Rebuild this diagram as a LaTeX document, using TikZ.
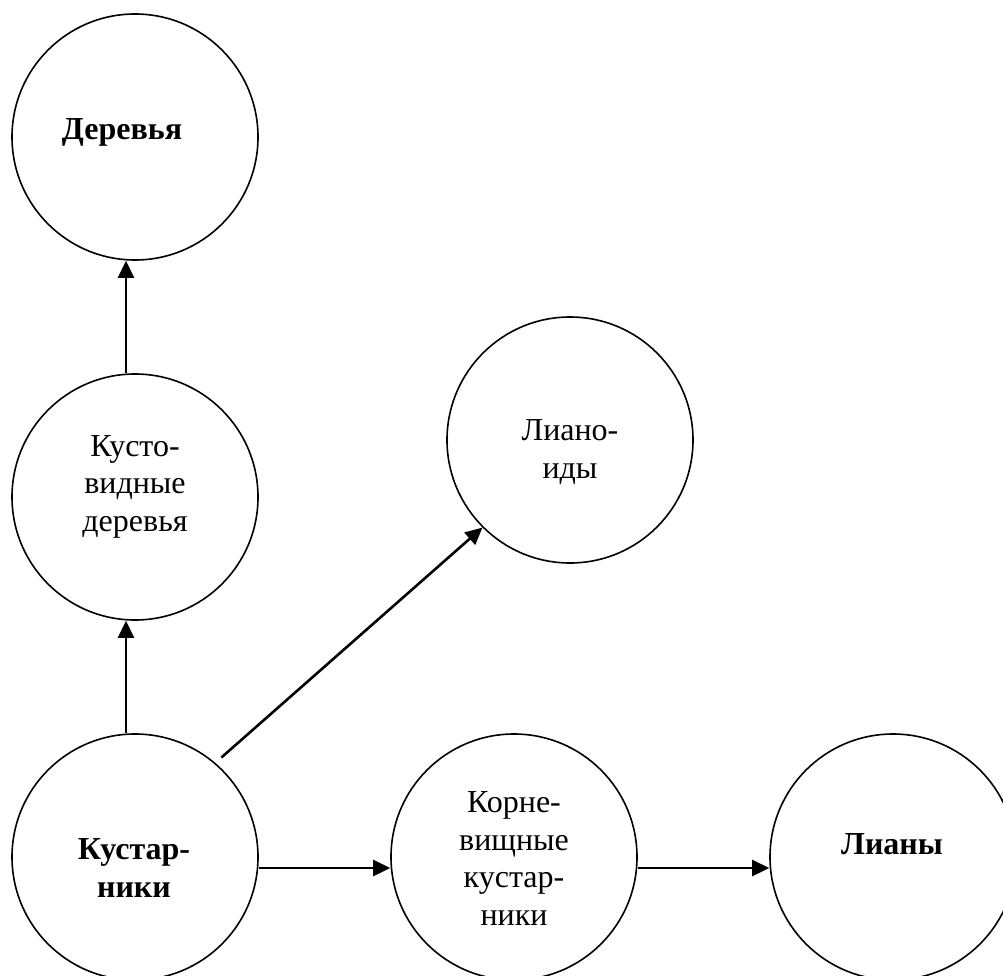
\documentclass[tikz,border=0pt]{standalone}
\usepackage{fontspec}
\setmainfont{Liberation Serif}
\usetikzlibrary{arrows.meta,calc}
\begin{document}
\begin{tikzpicture}[x=1pt,y=-1pt,
  circ/.style={circle,draw,line width=1.6pt,minimum size=246pt,inner sep=0pt},
  lbl/.style={align=center,anchor=base,inner sep=0pt,font=\fontsize{32}{37.5}\selectfont},
  blbl/.style={lbl,font=\fontsize{32}{37.5}\selectfont\bfseries},
  arr/.style={line width=2.6pt,-{Triangle[length=17pt,width=16pt]}}]
\useasboundingbox (0,0) rectangle (1003,976);
\fill[white] (0,0) rectangle (1003,976);
% circles
\node[circ] (d)  at (135,137) {};
\node[circ] (kd) at (135,497) {};
\node[circ] (l)  at (570,440) {};
\node[circ] (k)  at (135,857) {};
\node[circ] (kk) at (514,857) {};
\node[circ] (li) at (893,857) {};
% texts (anchor base = baseline of last line)
\node[blbl] (td)  at (122,140) {Деревья};
\node[lbl]  (tkd) at (135,531) {Кусто-\\видные\\деревья};
\node[lbl]  (tl)  at (570,478) {Лиано-\\иды};
\node[blbl] (tk)  at (134,897) {Кустар-\\ники};
\node[lbl]  (tkk) at (514,925) {Корне-\\вищные\\кустар-\\ники};
\node[blbl] (tli) at (892,854) {Лианы};
% connectors
\draw[arr] ([xshift=-9pt]kd.north) -- ([xshift=-9pt]d.south);
\draw[arr] ([xshift=-9pt]k.north) -- ([xshift=-9pt]kd.south);
\draw[arr] ([yshift=-11pt]k.east) -- ([yshift=-11pt]kk.west);
\draw[arr] ([yshift=-11pt]kk.east) -- ([yshift=-11pt]li.west);
\draw[arr] ([shift={(49.6:8pt)}]k.49.6) -- (l.225.7);
\end{tikzpicture}
\end{document}
